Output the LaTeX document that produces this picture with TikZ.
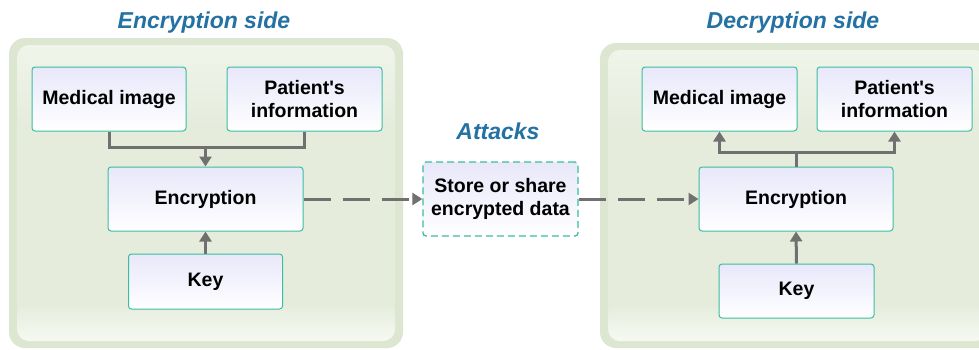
\documentclass[tikz,border=0pt]{standalone}
\usepackage{fontspec}
\setmainfont{Liberation Sans}
\usetikzlibrary{arrows.meta}

\definecolor{panelout}{RGB}{221,230,209}
\definecolor{panelin}{RGB}{229,236,220}
\definecolor{panelhi}{RGB}{240,244,234}
\definecolor{panelbot}{RGB}{246,249,242}
\definecolor{boxedge}{RGB}{58,190,158}
\definecolor{boxtop}{RGB}{232,232,250}
\definecolor{linkgray}{RGB}{112,112,112}
\definecolor{titleblue}{RGB}{36,113,163}

\tikzset{
  box/.style={draw=boxedge, line width=1pt, rounded corners=3pt,
    top color=boxtop, bottom color=white, middle color={rgb,255:red,243;green,243;blue,253},
    align=center, font=\fontsize{19.5}{23.5}\selectfont\bfseries, text=black,
    inner sep=0pt},
  storebox/.style={box, dashed, dash pattern=on 7pt off 4pt, line width=1.3pt},
  conn/.style={draw=linkgray, line width=3pt},
  arr/.style={conn, -{Triangle[length=10pt,width=12pt]}},
  darr/.style={arr, dash pattern=on 27pt off 12pt},
  sidetitle/.style={font=\fontsize{23}{27}\selectfont\bfseries\itshape, text=titleblue, inner sep=0pt},
}

\newcommand{\sidepanel}[4]{%
  % #1,#2 = top-left corner, #3,#4 = bottom-right corner
  \fill[panelout, rounded corners=16pt] (#1,#2) rectangle (#3,#4);
  \fill[panelin, rounded corners=12pt] (#1+8,#2+7) rectangle (#3-8,#4-7);
  \shade[rounded corners=12pt, top color=panelhi, bottom color=panelin]
    (#1+8,#2+7) rectangle (#3-8,#2+90);
  \shade[rounded corners=12pt, top color=panelin, bottom color=panelbot]
    (#1+8,#4-45) rectangle (#3-8,#4-7);
}

\begin{document}
\begin{tikzpicture}[x=1pt, y=-1pt]
  \useasboundingbox (0,0) rectangle (979,349);
  \fill[white] (0,0) rectangle (979,349);

  % background panels
  \sidepanel{9}{38}{403}{348}
  \sidepanel{600}{43}{995}{348}

  % titles
  \node[sidetitle] (t1) at (204,23) {Encryption side};
  \node[sidetitle] (t2) at (793,23) {Decryption side};
  \node[sidetitle] (t3) at (498,131) {Attacks};

  % encryption side
  \node[box, minimum width=154pt, minimum height=64pt] (mi1) at (109,99) {Medical image};
  \node[box, minimum width=155pt, minimum height=64pt] (pi1) at (304.5,99) {Patient\textquotesingle s\\information};
  \node[box, minimum width=195pt, minimum height=64pt] (enc1) at (205.5,199) {Encryption};
  \node[box, minimum width=154pt, minimum height=55pt] (key1) at (205.5,281.5) {Key};
  \coordinate (j1) at (205.5,147);

  % channel
  \node[storebox, minimum width=155pt, minimum height=74pt] (store) at (500.5,199) {Store or share\\encrypted data};

  % decryption side
  \node[box, minimum width=155pt, minimum height=64pt] (mi2) at (719.5,99) {Medical image};
  \node[box, minimum width=155pt, minimum height=64pt] (pi2) at (894.5,99) {Patient\textquotesingle s\\information};
  \node[box, minimum width=194pt, minimum height=64pt] (enc2) at (796,199) {Encryption};
  \node[box, minimum width=155pt, minimum height=54pt] (key2) at (796.5,291) {Key};
  \coordinate (j2) at (796,152);

  % connectors, encryption side
  \draw[conn] (mi1.south) |- (j1);
  \draw[conn] (pi1.south) |- (j1);
  \draw[arr] (j1) -- (enc1.north);
  \draw[arr] (key1.north) -- (enc1.south);

  % connectors, decryption side
  \draw[conn] (enc2.north) -- (j2);
  \draw[arr] (j2) -| (mi2.south);
  \draw[arr] (j2) -| (pi2.south);
  \draw[arr] (key2.north) -- (enc2.south);

  % dashed data flow
  \draw[darr] (enc1.east) -- (store.west);
  \draw[darr] (store.east) -- (enc2.west);
\end{tikzpicture}
\end{document}
